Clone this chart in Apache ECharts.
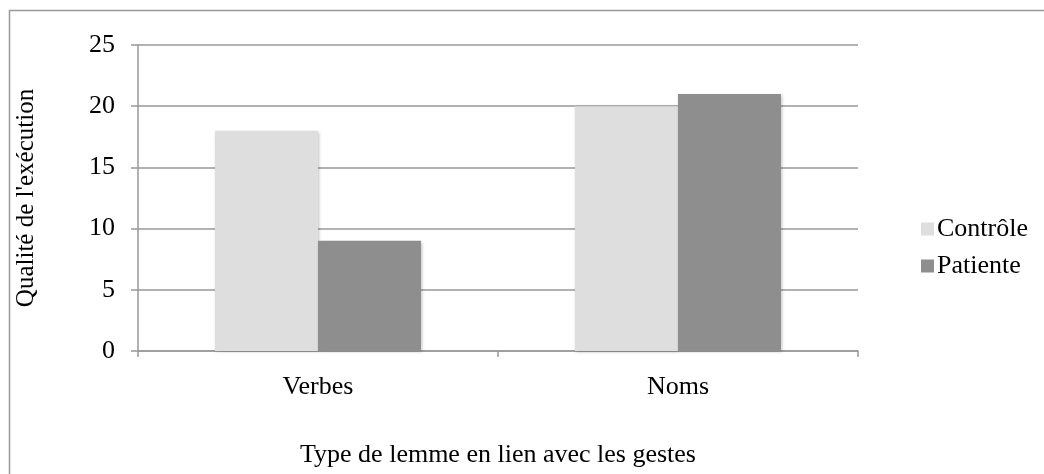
<!DOCTYPE html>
<html><head><meta charset="utf-8">
<script src="https://cdn.jsdelivr.net/npm/echarts@6/dist/echarts.min.js"></script>
<style>html,body{margin:0;padding:0;background:#fff}#c{width:1044px;height:474px}</style>
</head><body><div id="c"></div>
<script>
const categories = ['Verbes', 'Noms'];
const controle = [18, 20];
const patiente = [9, 21];
const yTicks = [0, 5, 10, 15, 20, 25];
const font = '"Liberation Serif", "Times New Roman", serif';
const chart = echarts.init(document.getElementById('c'));
chart.setOption({
  animation: false,
  textStyle: { fontFamily: font },
  graphic: [{ type: 'rect', shape: { x: 9.5, y: 10.5, width: 1100, height: 600 }, style: { fill: 'none', stroke: '#999', lineWidth: 1.5 }, silent: true }],
  grid: { left: 138, right: 186, top: 45, bottom: 123, containLabel: false, outerBoundsMode: 'none' },
  legend: {
    orient: 'vertical', left: 916, top: 211, itemWidth: 13, itemHeight: 13, itemGap: 11,
    textStyle: { fontFamily: font, fontSize: 26, color: '#000', padding: [0, 0, 0, -2] },
    icon: 'rect', data: ['Contrôle', 'Patiente']
  },
  xAxis: {
    type: 'category', data: categories,
    name: 'Type de lemme en lien avec les gestes', nameLocation: 'middle', nameGap: 91,
    nameTextStyle: { fontFamily: font, fontSize: 26, color: '#000' },
    axisLine: { lineStyle: { color: '#999', width: 1.5 } },
    axisTick: { show: true, length: 6, lineStyle: { color: '#999', width: 1.5 } },
    axisLabel: { fontFamily: font, fontSize: 26, color: '#000', margin: 23 }
  },
  yAxis: {
    type: 'value', min: 0, max: 25, interval: 5,
    name: "Qualité de l'exécution", nameLocation: 'middle', nameGap: 99,
    nameTextStyle: { fontFamily: font, fontSize: 25, color: '#000' },
    axisLine: { show: true, lineStyle: { color: '#999', width: 1.5 } },
    axisTick: { show: true, length: 7, lineStyle: { color: '#999', width: 1.5 } },
    axisLabel: { fontFamily: font, fontSize: 26, color: '#000', margin: 23,
      formatter: v => yTicks.includes(v) ? String(v) : '' },
    splitLine: { lineStyle: { color: '#999', width: 1.5 } }
  },
  series: [
    { name: 'Contrôle', type: 'bar', data: controle, barWidth: '28.6%', barGap: '0%',
      itemStyle: { color: '#dedede', shadowBlur: 3, shadowColor: 'rgba(0,0,0,0.25)', shadowOffsetX: 1, shadowOffsetY: 1 } },
    { name: 'Patiente', type: 'bar', data: patiente, barWidth: '28.6%', barGap: '0%',
      itemStyle: { color: '#8e8e8e', shadowBlur: 3, shadowColor: 'rgba(0,0,0,0.25)', shadowOffsetX: 1, shadowOffsetY: 1 } }
  ]
});
</script></body></html>
